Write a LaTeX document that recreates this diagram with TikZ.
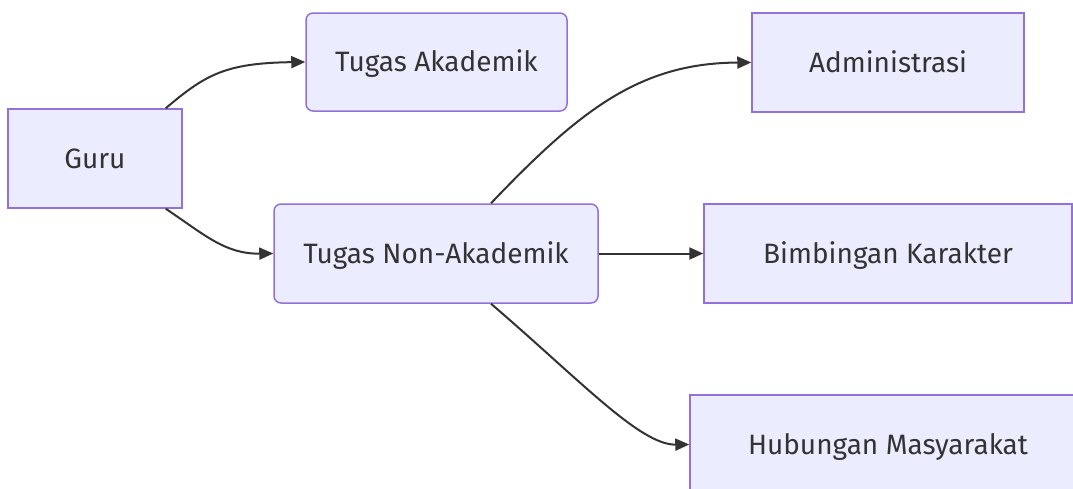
\documentclass[tikz,border=0pt]{standalone}
\usepackage{fontspec}
\setmainfont{Fira Sans}
\usepackage{tikz}
\usetikzlibrary{arrows.meta}
\definecolor{boxfill}{HTML}{ECECFF}
\definecolor{boxline}{HTML}{9370DB}
\definecolor{txtgray}{HTML}{333333}

\begin{document}
\begin{tikzpicture}[x=1pt, y=-1pt]
\tikzstyle{every node} = [draw=boxline, fill=boxfill, line width=1.5pt, text=txtgray, font=\fontsize{28}{32}\selectfont, inner sep=0pt, minimum height=99pt, text height=25pt, text depth=6pt]
\tikzstyle{rbox} = [rounded corners=7pt]
\tikzstyle{link} = [draw=txtgray, line width=2pt, -{Triangle[length=14pt, width=12pt]}]
\useasboundingbox (0,0) rectangle (1073,488);
\node[minimum width=174pt] (guru) at (95,158.5) {Guru};
\node[rbox, minimum width=261pt, minimum height=98pt] (ta) at (436.5,62) {Tugas Akademik};
\node[rbox, minimum width=324pt] (tna) at (436,253.5) {Tugas Non-Akademik};
\node[minimum width=272pt] (adm) at (888,62.5) {Administrasi};
\node[minimum width=368pt] (bk) at (888,253.5) {Bimbingan Karakter};
\node[minimum width=396pt] (hm) at (888,444.5) {Hubungan Masyarakat};
\draw[link] ([xshift=-17pt]guru.north east) .. controls (205,75) and (225,63) .. (ta.west);
\draw[link] ([xshift=-17pt]guru.south east) .. controls (205,235) and (225,254) .. (tna.west);
\draw[link] ([xshift=55pt]tna.north) .. controls (580,110) and (640,63) .. (adm.west);
\draw[link] (tna.east) -- (bk.west);
\draw[link] ([xshift=55pt]tna.south) .. controls (580,380) and (640,445) .. (hm.west);
\end{tikzpicture}
\end{document}
